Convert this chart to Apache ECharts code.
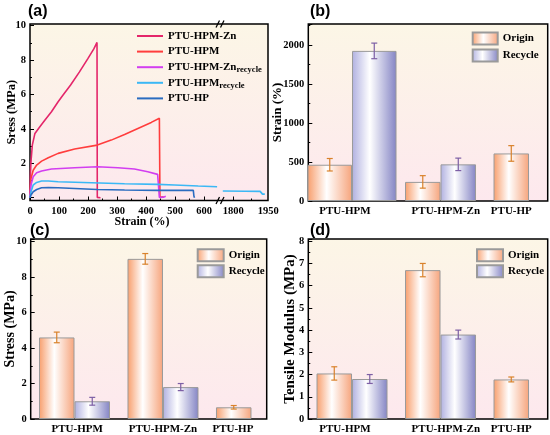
<!DOCTYPE html>
<html><head><meta charset="utf-8">
<script src="https://cdn.jsdelivr.net/npm/echarts@6/dist/echarts.min.js"></script>
<style>html,body{margin:0;padding:0;background:#fff}#c{width:550px;height:435px}</style>
</head><body><div id="c"></div>
<script>
// ---------- (a) stress-strain curves ----------
const znStrain = [0, 1, 3.4, 8, 17, 34, 51, 74, 97, 114, 140, 170, 200, 220, 231, 232, 243];
const znStress = [0, 1.2, 2.1, 3.06, 3.74, 4.13, 4.5, 5.0, 5.58, 5.97, 6.55, 7.3, 8.1, 8.65, 9.03, 0.02, 0];
const hpmStrain = [0, 1.5, 3.4, 11, 23, 40, 63, 97, 154, 232, 280, 326, 372, 418, 446, 448, 452, 461];
const hpmStress = [0, 0.6, 1.12, 1.6, 1.9, 2.13, 2.33, 2.58, 2.83, 3.06, 3.35, 3.68, 4.03, 4.38, 4.62, 0.02, 0, 0.06];
const znRecStrain = [0, 1.5, 3.4, 11, 23, 40, 74, 154, 232, 303, 360, 406, 440, 444, 446, 460, 468];
const znRecStress = [0, 0.4, 0.74, 1.22, 1.45, 1.55, 1.67, 1.74, 1.8, 1.74, 1.67, 1.51, 1.36, 1.33, 0.02, 0.03, 0.08];
const hpmRecStrain = [0, 3.4, 11, 23, 40, 63, 97, 212, 326, 440, 498, 580, 645, 1200, 1755, 1850, 1915, 1925, 1935];
const hpmRecStress = [0, 0.35, 0.74, 0.89, 0.97, 0.97, 0.93, 0.87, 0.81, 0.78, 0.74, 0.68, 0.64, null, 0.39, 0.38, 0.37, 0.21, 0.21];
const hpStrain = [0, 3.4, 11, 23, 40, 63, 97, 154, 232, 326, 440, 500, 563, 565, 567];
const hpStress = [0, 0.16, 0.35, 0.48, 0.58, 0.6, 0.58, 0.54, 0.48, 0.45, 0.43, 0.43, 0.43, 0.1, 0];
const aXTicks = [0, 100, 200, 300, 400, 500, 600];
const aXMinor = [50, 150, 250, 350, 450, 550, 650];
const aX2Labels = [1800, 1950];
const aX2Ticks = [1800];
const aX2Minor = [1875];
const aYTicks = [0, 2, 4, 6, 8, 10];
const aYMinor = [1, 3, 5, 7, 9];

// ---------- (b)(c)(d) bars ----------
const categories = ['PTU-HPM', 'PTU-HPM-Zn', 'PTU-HP'];
const strainOrigin = [465, 245, 610];
const strainOriginErr = [80, 80, 100];
const strainRecycle = [1925, 470, null];
const strainRecycleErr = [100, 80, null];
const stressOrigin = [4.6, 9.03, 0.66];
const stressOriginErr = [0.3, 0.3, 0.1];
const stressRecycle = [1.0, 1.8, null];
const stressRecycleErr = [0.22, 0.2, null];
const modOrigin = [2.05, 6.7, 1.78];
const modOriginErr = [0.3, 0.3, 0.11];
const modRecycle = [1.8, 3.8, null];
const modRecycleErr = [0.2, 0.2, null];

const FONT = 'Liberation Serif';
const bg = {type:'linear',x:0,y:0,x2:0,y2:1,colorStops:[{offset:0,color:'#fcf6e6'},{offset:1,color:'#fde8ee'}]};
const frame = {show:true, backgroundColor:bg, borderColor:'#000', borderWidth:1.5};
const plain = v => String(v);
const lblStyle = {fontFamily:FONT, fontWeight:'bold', fontSize:10.5, color:'#000', formatter:plain};
const originFill = {type:'linear',x:0,y:0,x2:1,y2:0,colorStops:[{offset:0,color:'#f89e6c'},{offset:0.43,color:'#ffffff'},{offset:1,color:'#f6a47c'}]};
const recycleFill = {type:'linear',x:0,y:0,x2:1,y2:0,colorStops:[{offset:0,color:'#b0b0e0'},{offset:0.4,color:'#ffffff'},{offset:1,color:'#8484c4'}]};
const ORIGIN_ERR = '#d9822b', RECYCLE_ERR = '#7d5fa5';
const BW = 35.5, BW_WIDE = 44.5;

function pairs(xs, ys) { return xs.map((x, i) => [x, ys[i]]); }
function barData(vals, idx) { return idx.filter(i => vals[i] != null).map(i => [i, vals[i]]); }
function errData(vals, errs, idx) { return idx.filter(i => vals[i] != null).map(i => [i, vals[i], errs[i]]); }

function errRender(side, w) {
  return function (params, api) {
    const x = api.value(0), y = api.value(1), e = api.value(2);
    const top = api.coord([x, y + e]), bot = api.coord([x, y - e]);
    const px = top[0] + side * w / 2;
    const cap = 3;
    const st = {stroke: api.visual('color'), lineWidth: 1.2};
    return {type:'group', children:[
      {type:'line', shape:{x1:px,y1:top[1],x2:px,y2:bot[1]}, style:st},
      {type:'line', shape:{x1:px-cap,y1:top[1],x2:px+cap,y2:top[1]}, style:st},
      {type:'line', shape:{x1:px-cap,y1:bot[1],x2:px+cap,y2:bot[1]}, style:st}
    ]};
  };
}

function lineSeries(name, xs, ys, color, xi, yi) {
  return {type:'line', name, data:pairs(xs, ys), xAxisIndex:xi, yAxisIndex:yi,
    symbol:'none', connectNulls:false, lineStyle:{color, width:1.6}, itemStyle:{color}, z:3};
}
function barSeries(name, data, xi, yi, w, fill) {
  return {type:'bar', name, data, xAxisIndex:xi, yAxisIndex:yi, barWidth:w, barGap:'0%',
    itemStyle:{color:fill, borderColor:'#9a9a9a', borderWidth:1}, z:2};
}
function errSeries(data, xi, yi, side, w, color) {
  return {type:'custom', data, xAxisIndex:xi, yAxisIndex:yi, renderItem:errRender(side, w),
    itemStyle:{color}, z:5, silent:true};
}

const noLine = {show:false, onZero:false};
const hidden = (g) => ({type:'value', gridIndex:g, show:false, min:0, max:1, axisLine:noLine});
function catX(g, min, max, labels) {
  return {type:'value', gridIndex:g, position:'bottom', min, max,
    axisLine:noLine, axisTick:{show:false}, splitLine:{show:false},
    axisLabel:Object.assign({}, lblStyle, {customValues:labels, margin:5, fontSize:11, formatter:v => categories[Math.round(v)]})};
}
function nameOpts(name, nameGap, size) {
  return {name, nameLocation:'middle', nameGap, nameMoveOverlap:false,
    nameTextStyle:{fontFamily:FONT, fontWeight:'bold', fontSize:size, color:'#000'}};
}
function barY(g, max, interval, name, nameGap, nameSize) {
  return Object.assign({type:'value', gridIndex:g, position:'left', min:0, max, interval,
    axisLine:noLine, splitLine:{show:false},
    axisTick:{show:true, inside:true, length:4, lineStyle:{color:'#000', width:1}},
    minorTick:{show:true, splitNumber:2, length:2, lineStyle:{color:'#000', width:1}},
    axisLabel:Object.assign({margin:4, showMaxLabel:false}, lblStyle)}, nameOpts(name, nameGap, nameSize));
}
function tickAxis(g, pos, min, max, ticks, len, labels) {
  const ax = {type:'value', gridIndex:g, position:pos, min, max, axisLine:noLine, splitLine:{show:false},
    axisTick:{inside:true, length:len, customValues:ticks, lineStyle:{color:'#000'}}};
  ax.axisLabel = labels ? Object.assign({customValues:labels, margin:pos === 'left' ? 4 : 5}, lblStyle) : {show:false};
  return ax;
}
const G = (o) => Object.assign({outerBoundsMode:'none', containLabel:false}, o);

const option = {
  animation:false,
  backgroundColor:'#fff',
  grid:[
    G(Object.assign({left:30, top:24, width:238, height:176.5}, frame)),   // 0 (a) frame
    G({left:30, top:24, width:190, height:176.5}),                         // 1 (a) left
    G({left:220, top:24, width:48.3, height:176.5}),                       // 2 (a) right
    G(Object.assign({left:308.3, top:24, width:239.4, height:177}, frame)), // 3 (b)
    G(Object.assign({left:30.7, top:239, width:236, height:180}, frame)),  // 4 (c)
    G(Object.assign({left:308.3, top:239, width:239.4, height:180}, frame)) // 5 (d)
  ],
  xAxis:[
    hidden(0),
    tickAxis(1, 'bottom', 0, 655, aXTicks, 4, aXTicks),
    tickAxis(1, 'bottom', 0, 655, aXMinor, 2, null),
    tickAxis(2, 'bottom', 1743, 1950, aX2Ticks, 4, aX2Labels),
    tickAxis(2, 'bottom', 1743, 1950, aX2Minor, 2, null),
    catX(3, -0.494, 2.211, [-0.08, 1.06, 1.8]),
    {type:'value', gridIndex:3, position:'bottom', show:false, min:-0.494, max:2.211, axisLine:noLine},
    catX(4, -0.495, 2.172, [0.03, 1.0, 1.79]),
    catX(5, -0.494, 2.211, [-0.08, 1.06, 1.8])
  ],
  yAxis:[
    hidden(0),
    Object.assign(tickAxis(1, 'left', -0.16, 10.1, aYTicks, 4, aYTicks), nameOpts('Sress (MPa)', 11.5, 12.5)),
    tickAxis(1, 'left', -0.16, 10.1, aYMinor, 2, null),
    {type:'value', gridIndex:2, position:'left', show:false, min:-0.16, max:10.1, axisLine:noLine},
    barY(3, 2270, 500, 'Strain (%)', 24.5, 13),
    barY(4, 10.15, 2, 'Stress (MPa)', 13.5, 14),
    barY(5, 8.1, 1, 'Tensile Modulus (MPa)', 10.5, 15)
  ],
  legend:[
    {data:['PTU-HPM-Zn','PTU-HPM','PTU-HPM-Zn_recycle','PTU-HPM_recycle','PTU-HP'],
      orient:'vertical', left:137, top:29, padding:0, icon:'rect', itemWidth:26, itemHeight:2, itemGap:1.6, selectedMode:false,
      formatter:n => n.replace('_recycle', '{s|recycle}'),
      textStyle:{fontFamily:FONT, fontWeight:'bold', fontSize:11, color:'#000', lineHeight:14,
        rich:{s:{fontFamily:FONT, fontWeight:'bold', fontSize:8.5, color:'#000', lineHeight:8, verticalAlign:'bottom'}}}},
    {data:['Origin','Recycle'], orient:'vertical', left:471.7, top:31.5, padding:0, icon:'rect', itemWidth:25, itemHeight:12, itemGap:3, selectedMode:false,
      textStyle:{fontFamily:FONT, fontWeight:'bold', fontSize:11, color:'#000'}},
    {data:['Origin','Recycle'], orient:'vertical', left:196.7, top:248.3, padding:0, icon:'rect', itemWidth:26, itemHeight:12, itemGap:2, selectedMode:false,
      textStyle:{fontFamily:FONT, fontWeight:'bold', fontSize:11, color:'#000'}},
    {data:['Origin','Recycle'], orient:'vertical', left:476, top:248.3, padding:0, icon:'rect', itemWidth:26, itemHeight:12, itemGap:2, selectedMode:false,
      textStyle:{fontFamily:FONT, fontWeight:'bold', fontSize:11, color:'#000'}}
  ],
  series:[
    lineSeries('PTU-HPM-Zn', znStrain, znStress, '#e4266a', 1, 1),
    lineSeries('PTU-HPM', hpmStrain, hpmStress, '#ff3d3d', 1, 1),
    lineSeries('PTU-HPM-Zn_recycle', znRecStrain, znRecStress, '#d23ef0', 1, 1),
    lineSeries('PTU-HPM_recycle', hpmRecStrain, hpmRecStress, '#3bb8f5', 1, 1),
    lineSeries('PTU-HPM_recycle', hpmRecStrain, hpmRecStress, '#3bb8f5', 3, 3),
    lineSeries('PTU-HP', hpStrain, hpStress, '#2a6cc0', 1, 1),

    // (b)
    barSeries('Origin', barData(strainOrigin, [1, 2]), 5, 4, BW, originFill),
    barSeries('Recycle', barData(strainRecycle, [1, 2]), 5, 4, BW, recycleFill),
    barSeries('Origin', barData(strainOrigin, [0]), 6, 4, BW_WIDE, originFill),
    barSeries('Recycle', barData(strainRecycle, [0]), 6, 4, BW_WIDE, recycleFill),
    errSeries(errData(strainOrigin, strainOriginErr, [1, 2]), 5, 4, -1, BW, ORIGIN_ERR),
    errSeries(errData(strainRecycle, strainRecycleErr, [1, 2]), 5, 4, 1, BW, RECYCLE_ERR),
    errSeries(errData(strainOrigin, strainOriginErr, [0]), 6, 4, -1, BW_WIDE, ORIGIN_ERR),
    errSeries(errData(strainRecycle, strainRecycleErr, [0]), 6, 4, 1, BW_WIDE, RECYCLE_ERR),

    // (c)
    barSeries('Origin', barData(stressOrigin, [0, 1, 2]), 7, 5, BW, originFill),
    barSeries('Recycle', barData(stressRecycle, [0, 1, 2]), 7, 5, BW, recycleFill),
    errSeries(errData(stressOrigin, stressOriginErr, [0, 1, 2]), 7, 5, -1, BW, ORIGIN_ERR),
    errSeries(errData(stressRecycle, stressRecycleErr, [0, 1, 2]), 7, 5, 1, BW, RECYCLE_ERR),

    // (d)
    barSeries('Origin', barData(modOrigin, [0, 1, 2]), 8, 6, BW, originFill),
    barSeries('Recycle', barData(modRecycle, [0, 1, 2]), 8, 6, BW, recycleFill),
    errSeries(errData(modOrigin, modOriginErr, [0, 1, 2]), 8, 6, -1, BW, ORIGIN_ERR),
    errSeries(errData(modRecycle, modRecycleErr, [0, 1, 2]), 8, 6, 1, BW, RECYCLE_ERR)
  ],
  graphic:[
    {type:'text', left:28, top:4, style:{text:'(a)', font:'bold 16px "Liberation Sans"', fill:'#000'}},
    {type:'text', left:310, top:4, style:{text:'(b)', font:'bold 16px "Liberation Sans"', fill:'#000'}},
    {type:'text', left:30, top:223, style:{text:'(c)', font:'bold 16px "Liberation Sans"', fill:'#000'}},
    {type:'text', left:310, top:223, style:{text:'(d)', font:'bold 16px "Liberation Sans"', fill:'#000'}},
    {type:'text', x:142, y:222, style:{text:'Strain (%)', font:'bold 12px "Liberation Serif"', fill:'#000', textAlign:'center', textVerticalAlign:'middle', align:'center', verticalAlign:'middle'}},
    {type:'line', shape:{x1:216, y1:27.5, x2:219.5, y2:20.5}, style:{stroke:'#000', lineWidth:1.2}},
    {type:'line', shape:{x1:220.5, y1:27.5, x2:224, y2:20.5}, style:{stroke:'#000', lineWidth:1.2}},
    {type:'line', shape:{x1:216, y1:204, x2:219.5, y2:197}, style:{stroke:'#000', lineWidth:1.2}},
    {type:'line', shape:{x1:220.5, y1:204, x2:224, y2:197}, style:{stroke:'#000', lineWidth:1.2}}
  ]
};
const chart = echarts.init(document.getElementById('c'), null, {renderer:'canvas'});
chart.setOption(option);
</script>
</body></html>
